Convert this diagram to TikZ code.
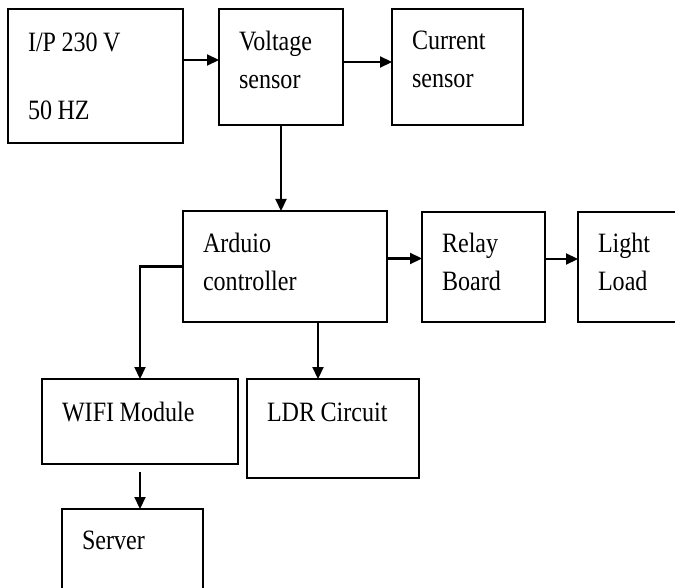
\documentclass[tikz,border=0pt]{standalone}
\usepackage{fontspec}
\setmainfont{Liberation Serif}
\newfontfamily\blkfont{Liberation Serif}[FakeStretch=0.86]
\usetikzlibrary{arrows.meta,calc,positioning}
\tikzset{
  blk/.style={draw,line width=1.6pt,anchor=north west,outer sep=0pt,
    align=left,inner xsep=20pt,inner ysep=3pt,
    font=\blkfont\fontsize{28}{38}\selectfont,
    execute at begin node={\spaceskip=5.5pt\relax}},
  flow/.style={-{Triangle[length=12pt,width=11pt]},line width=2.2pt}
}

\begin{document}
\begin{tikzpicture}[x=1pt,y=-1pt]
  \useasboundingbox (0,0) rectangle (675,588);

  \node[blk,text width=135pt,minimum height=134pt,text depth=67pt] (ip) at (8,9) {
    I/P 230 V\\[30pt]50 HZ};
  \node[blk,text width=84pt,minimum height=116pt,text depth=53pt] (volt) at (219,9) {
    Voltage\\sensor};
  \node[blk,text width=91pt,minimum height=116pt,text depth=53pt] (curr) at (392,9) {
    Current\\sensor};

  \node[blk,text width=164pt,minimum height=111pt,text depth=48pt] (ard) at (183,211) {
    Arduio\\controller};
  \node[blk,text width=83pt,minimum height=110pt,text depth=49pt] (relay) at (422,212) {
    Relay\\Board};
  \node[blk,text width=82pt,minimum height=110pt,text depth=49pt] (light) at (578,212) {
    Light\\Load};

  \node[blk,text width=156pt,minimum height=85pt,text depth=20pt] (wifi) at (42,379) {
    WIFI Module};
  \node[blk,text width=132pt,minimum height=99pt,text depth=32pt] (ldr) at (247,379) {
    LDR Circuit};
  \node[blk,text width=101pt,minimum height=81pt,text depth=18pt] (srv) at (62,509) {
    Server};

  \draw[flow] ([yshift=16pt]ip.east)--([yshift=16pt]ip.east -| volt.west);
  \draw[flow] ([yshift=5pt]volt.east)--([yshift=5pt]volt.east -| curr.west);
  \draw[flow] (volt.south)--(volt.south |- ard.north);
  \draw[flow] ([yshift=8pt]ard.east)--([yshift=8pt]ard.east -| relay.west);
  \draw[flow] ([yshift=8pt]relay.east)--([yshift=8pt]relay.east -| light.west);
  \draw[flow] (ard.west) -| (wifi.north);
  \draw[flow] ([xshift=-15pt]ldr.north |- ard.south)--([xshift=-15pt]ldr.north);
  \draw[flow] ([yshift=-8pt]wifi.south)--(wifi.south |- srv.north);
\end{tikzpicture}
\end{document}
